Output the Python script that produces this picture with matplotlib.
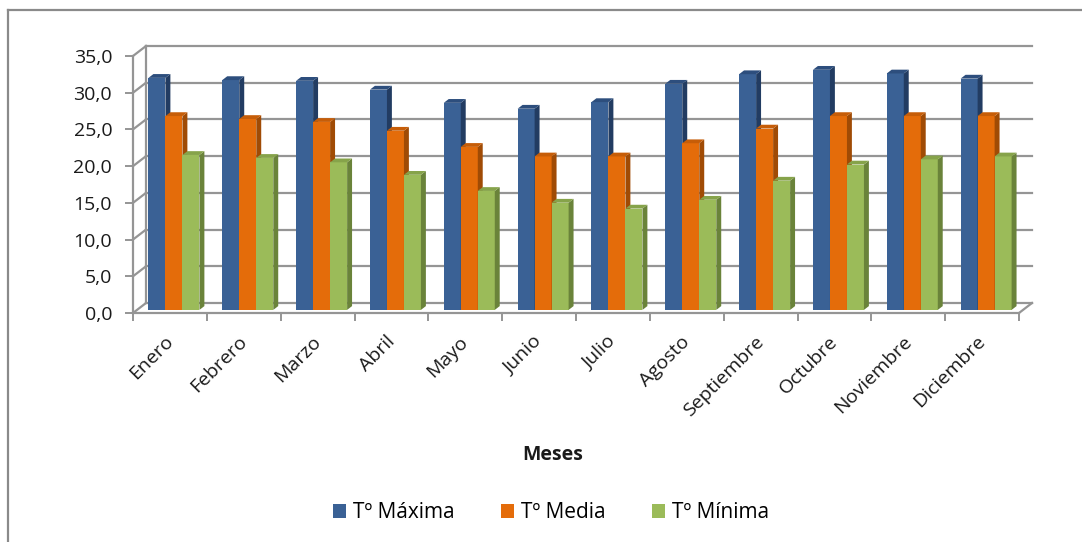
import matplotlib
matplotlib.use("Agg")
import matplotlib.pyplot as plt
import matplotlib.transforms as mtransforms
from matplotlib.patches import Polygon, Patch
from matplotlib.lines import Line2D

# Monthly temperatures (ºC)
meses = ["Enero", "Febrero", "Marzo", "Abril", "Mayo", "Junio", "Julio",
         "Agosto", "Septiembre", "Octubre", "Noviembre", "Diciembre"]
t_maxima = [31.6, 31.3, 31.2, 30.0, 28.2, 27.4, 28.3, 30.8, 32.1, 32.7, 32.2, 31.5]
t_media = [26.4, 26.0, 25.6, 24.4, 22.2, 20.9, 20.9, 22.7, 24.7, 26.4, 26.4, 26.4]
t_minima = [21.1, 20.7, 20.1, 18.4, 16.2, 14.6, 13.8, 15.0, 17.6, 19.8, 20.5, 20.9]
series_names = ["Tº Máxima", "Tº Media", "Tº Mínima"]
y_ticks = [0, 5, 10, 15, 20, 25, 30, 35]

# front / side / top face colours per series
face_colors = [
    ("#3A6195", "#223C62", "#2D4E7D"),
    ("#E46C0A", "#A04B05", "#C65D08"),
    ("#9BBB59", "#6A833A", "#86A34A"),
]
grid_color = "#959595"
text_color = "#1a1a1a"
fs = 14

plt.rcParams["font.family"] = ["Open Sans", "DejaVu Sans"]

W, H = 1082, 542
fig = plt.figure(figsize=(W / 100, H / 100), dpi=100)
fig.patch.set_facecolor("white")

# plot area: front floor edge and front value axis
ax = fig.add_axes([133 / W, 1 - 313 / H, 886 / W, 257 / H])
n = len(meses)
ax.set_xlim(0, n)
ax.set_ylim(0, 35)
ax.set_facecolor("none")

# depth of the 3D box in data units
px_x = n / 886
px_y = 35 / 257
dxd = 13 * px_x
dyd = 10 * px_y

# back wall gridlines + side wall diagonals
for v in y_ticks:
    ax.plot([dxd, n + dxd], [v + dyd, v + dyd], color=grid_color, lw=1.6,
            clip_on=False, zorder=1)
    ax.plot([0, dxd], [v, v + dyd], color=grid_color, lw=1.6,
            clip_on=False, zorder=1)
ax.plot([dxd, dxd], [dyd, 35 + dyd], color=grid_color, lw=1.6,
        clip_on=False, zorder=1)
ax.plot([n, n + dxd], [0, dyd], color=grid_color, lw=1.6,
        clip_on=False, zorder=1)

# bars
values = [t_maxima, t_media, t_minima]
bar_w = 17 * px_x
group_w = 3 * bar_w
f0, f1 = 0.31, 0.69
for i in range(n):
    left = i + 0.5 - group_w / 2
    for j, vals in enumerate(values):
        v = vals[i]
        x0 = left + j * bar_w
        x1 = x0 + bar_w
        front, side, top = face_colors[j]
        ax.add_patch(Polygon(
            [(x0 + f0 * dxd, f0 * dyd), (x1 + f0 * dxd, f0 * dyd),
             (x1 + f0 * dxd, v + f0 * dyd), (x0 + f0 * dxd, v + f0 * dyd)],
            closed=True, facecolor=front, edgecolor="none", clip_on=False, zorder=3))
        ax.add_patch(Polygon(
            [(x1 + f0 * dxd, f0 * dyd), (x1 + f1 * dxd, f1 * dyd),
             (x1 + f1 * dxd, v + f1 * dyd), (x1 + f0 * dxd, v + f0 * dyd)],
            closed=True, facecolor=side, edgecolor="none", clip_on=False, zorder=3))
        ax.add_patch(Polygon(
            [(x0 + f0 * dxd, v + f0 * dyd), (x1 + f0 * dxd, v + f0 * dyd),
             (x1 + f1 * dxd, v + f1 * dyd), (x0 + f1 * dxd, v + f1 * dyd)],
            closed=True, facecolor=top, edgecolor="none", clip_on=False, zorder=3))

# axes, ticks and labels
for s in ["top", "right"]:
    ax.spines[s].set_visible(False)
for s in ["left", "bottom"]:
    ax.spines[s].set_color(grid_color)
    ax.spines[s].set_linewidth(1.6)
    ax.spines[s].set_zorder(2)

ax.set_yticks(y_ticks)
ax.set_yticklabels([f"{v:.1f}".replace(".", ",") for v in y_ticks])
ax.tick_params(axis="y", length=6, width=1.4, color=grid_color, pad=9,
               labelsize=fs, labelcolor=text_color)

ax.set_xticks(range(n + 1))
ax.set_xticklabels([])
ax.set_xticks([i + 0.5 for i in range(n)], minor=True)
ax.set_xticklabels(meses, minor=True)
ax.tick_params(axis="x", which="major", length=6, width=1.4, color=grid_color)
ax.tick_params(axis="x", which="minor", length=0, pad=14, labelsize=fs,
               labelcolor=text_color)
shift = mtransforms.ScaledTranslation(-6 / 100, 0, fig.dpi_scale_trans)
for lab in ax.get_xticklabels(minor=True):
    lab.set_rotation(45)
    lab.set_ha("right")
    lab.set_rotation_mode("anchor")
    lab.set_transform(lab.get_transform() + shift)

fig.text(553 / W, 1 - 455 / H, "Meses", ha="center", va="center",
         fontsize=fs, fontweight="bold", color=text_color)

handles = [Patch(facecolor=c[0], edgecolor="none") for c in face_colors]
fig.legend(handles, series_names, loc="center",
           bbox_to_anchor=(551 / W, 1 - 513 / H), ncol=3, frameon=False,
           fontsize=15, handlelength=0.63, handleheight=0.63,
           handletextpad=0.34, columnspacing=2.2)

# chart area border (left and top edges)
fig.add_artist(Line2D([8 / W, 8 / W], [0, 1 - 10 / H], transform=fig.transFigure,
                      color="#8a8a8a", lw=1.6))
fig.add_artist(Line2D([8 / W, 1], [1 - 10 / H, 1 - 10 / H], transform=fig.transFigure,
                      color="#8a8a8a", lw=1.6))

fig.savefig("out.png", dpi=100)
